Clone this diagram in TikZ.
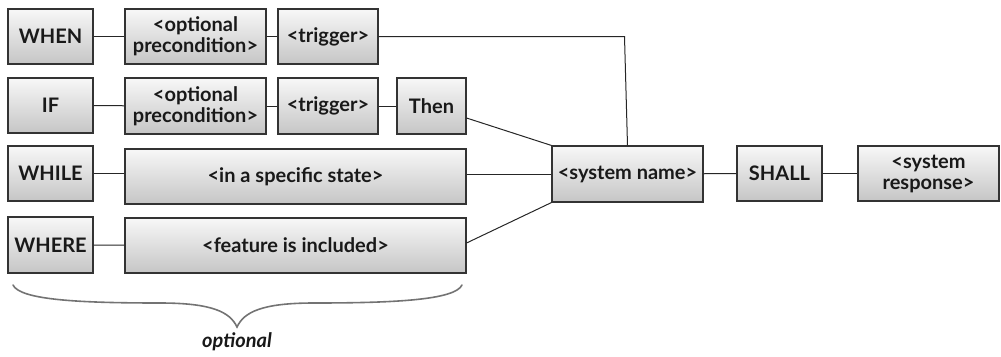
\documentclass[tikz,border=0pt]{standalone}
\usepackage{fontspec}
\setmainfont{Lato}
\begin{document}
\begin{tikzpicture}[x=1pt,y=-1pt,
  box/.style={draw=black!80, line width=1.1pt, top color=gray!6, bottom color=gray!45,
    minimum height=55pt, inner sep=1pt, font=\fontsize{20}{21}\selectfont\bfseries,
    text=black!90, align=center},
  link/.style={draw=black!85, line width=1pt}]
\useasboundingbox (0,0) rectangle (1001,356);
% row 1
\node[box, minimum width=85pt] (when) at (50.5,36.5) {WHEN};
\node[box, minimum width=141pt] (pre1) at (195.5,36.5) {<optional\\precondition>};
\node[box, minimum width=100pt] (trig1) at (328,36.5) {<trigger>};
% row 2
\node[box, minimum width=85pt] (if) at (50.5,105.5) {IF};
\node[box, minimum width=141pt, minimum height=56pt] (pre2) at (195.5,106) {<optional\\precondition>};
\node[box, minimum width=100pt, minimum height=56pt] (trig2) at (328,106) {<trigger>};
\node[box, minimum width=69pt, minimum height=56pt] (then) at (431.5,106) {Then};
% row 3
\node[box, minimum width=85pt] (while) at (50.5,173.5) {WHILE};
\node[box, minimum width=341pt] (state) at (295.5,176.5) {<in a specific state>};
% row 4
\node[box, minimum width=85pt, minimum height=56pt] (where) at (50.5,245) {WHERE};
\node[box, minimum width=341pt] (feature) at (295.5,245.5) {<feature is included>};
% right part
\node[box, minimum width=151pt, minimum height=56pt] (sys) at (627.5,174) {<system name>};
\node[box, minimum width=85pt] (shall) at (779.5,173.5) {SHALL};
\node[box, minimum width=141pt] (resp) at (928.5,173.5) {<system\\response>};
\coordinate (bend) at (624.5,36.5);
% connectors
\draw[link] (when) -- (pre1);
\draw[link] (pre1) -- (trig1);
\draw[link] (trig1) -- (bend) -- (sys.north);
\draw[link] (if) -- (pre2);
\draw[link] (pre2) -- (trig2);
\draw[link] (trig2) -- (then);
\draw[link] ([yshift=-12pt]then.east) -- (sys.north west);
\draw[link] (while) -- (state.west |- while);
\draw[link] ([yshift=2.5pt]state.east) -- (sys.west);
\draw[link] (where) -- (feature);
\draw[link] ([yshift=2.5pt]feature.east) -- (sys.south west);
\draw[link] (sys) -- (shall);
\draw[link] (shall) -- (resp);
% brace
\coordinate (bl) at (13,285);
\coordinate (bt) at (237,327);
\coordinate (br) at (462,285);
\draw[gray!110, line width=1.6pt, line cap=round]
  (bl) .. controls (20,300) and (80,303) .. (160,303)
       .. controls (212,303) and (230,312) .. (bt)
       .. controls (244,312) and (262,303) .. (314,303)
       .. controls (394,303) and (455,300) .. (br);
\node[font=\fontsize{20}{21}\selectfont\bfseries\itshape, text=black!90] (opt) at (237,342) {optional};
\end{tikzpicture}
\end{document}
